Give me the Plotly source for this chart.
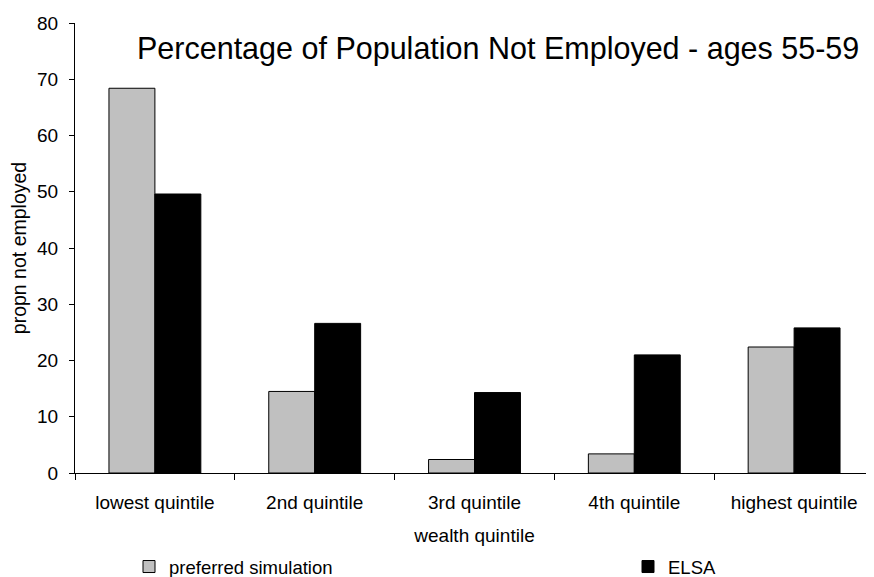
import plotly.graph_objects as go

categories = ["lowest quintile", "2nd quintile", "3rd quintile", "4th quintile", "highest quintile"]
preferred_simulation = [68.4, 14.5, 2.4, 3.4, 22.4]
elsa = [49.6, 26.6, 14.3, 21.0, 25.8]
y_ticks = [0, 10, 20, 30, 40, 50, 60, 70, 80]

FONT = "Liberation Sans, Arial, sans-serif"

# page body has an 8px margin, so the figure is drawn 8px in from the top-left
W, H = 866, 569
OFF = 8

fig = go.Figure()
fig.add_trace(go.Bar(
    x=categories, y=preferred_simulation, name="preferred simulation",
    marker=dict(color="#C0C0C0", line=dict(color="black", width=1)),
    legend="legend",
))
fig.add_trace(go.Bar(
    x=categories, y=elsa, name="ELSA",
    marker=dict(color="black", line=dict(color="black", width=1)),
    legend="legend2",
))

leg_y = 1 - (567 - OFF) / H
fig.update_layout(
    width=W, height=H,
    margin=dict(l=75 - OFF, r=0, t=23 - OFF, b=H - (473 - OFF), autoexpand=False),
    paper_bgcolor="white", plot_bgcolor="white",
    font=dict(family=FONT, size=19, color="black"),
    barmode="group", bargap=0.425, bargroupgap=0,
    showlegend=True,
    legend=dict(orientation="h", xref="container", yref="container",
                x=(143 - OFF - 14) / W, xanchor="left", y=leg_y, yanchor="middle",
                font=dict(size=18.5), bgcolor="rgba(0,0,0,0)"),
    legend2=dict(orientation="h", xref="container", yref="container",
                 x=(642 - OFF - 14) / W, xanchor="left", y=leg_y, yanchor="middle",
                 font=dict(size=18.5), bgcolor="rgba(0,0,0,0)"),
    annotations=[dict(
        text="Percentage of Population Not Employed - ages 55-59",
        xref="paper", yref="paper", x=0.529, y=0.944, xanchor="center", yanchor="middle",
        showarrow=False, font=dict(size=30.5, family=FONT),
    )],
)

fig.update_yaxes(
    range=[0, 80], tickvals=y_ticks, ticks="outside", ticklen=5, tickwidth=1,
    tickcolor="black", showline=True, linecolor="black", linewidth=1,
    showgrid=False, zeroline=False, tickfont=dict(size=19), automargin=False,
    ticklabelstandoff=7,
    title=dict(text="propn not employed", font=dict(size=19.5), standoff=13),
)
fig.update_xaxes(
    ticks="outside", tickson="boundaries", ticklen=6, tickwidth=1, tickcolor="black",
    showline=True, linecolor="black", linewidth=1, showgrid=False,
    tickfont=dict(size=19), automargin=False, ticklabelstandoff=12,
    title=dict(text="wealth quintile", font=dict(size=19), standoff=16),
)

fig.write_html("out.html")
